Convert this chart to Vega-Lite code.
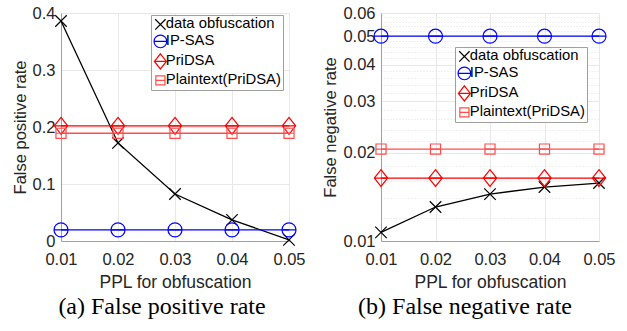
{
  "$schema": "https://vega.github.io/schema/vega-lite/v6.json",
  "background": "white",
  "padding": {"left": 11, "top": 4, "right": 5, "bottom": 5},
  "datasets": {
    "fpr": [
      {"ppl": 0.01, "series": "data obfuscation", "value": 0.386},
      {"ppl": 0.02, "series": "data obfuscation", "value": 0.172},
      {"ppl": 0.03, "series": "data obfuscation", "value": 0.0825},
      {"ppl": 0.04, "series": "data obfuscation", "value": 0.037},
      {"ppl": 0.05, "series": "data obfuscation", "value": 0.002},
      {"ppl": 0.01, "series": "IP-SAS", "value": 0.0195},
      {"ppl": 0.02, "series": "IP-SAS", "value": 0.0195},
      {"ppl": 0.03, "series": "IP-SAS", "value": 0.0195},
      {"ppl": 0.04, "series": "IP-SAS", "value": 0.0195},
      {"ppl": 0.05, "series": "IP-SAS", "value": 0.0195},
      {"ppl": 0.01, "series": "PriDSA", "value": 0.202},
      {"ppl": 0.02, "series": "PriDSA", "value": 0.202},
      {"ppl": 0.03, "series": "PriDSA", "value": 0.202},
      {"ppl": 0.04, "series": "PriDSA", "value": 0.202},
      {"ppl": 0.05, "series": "PriDSA", "value": 0.202},
      {"ppl": 0.01, "series": "Plaintext(PriDSA)", "value": 0.189},
      {"ppl": 0.02, "series": "Plaintext(PriDSA)", "value": 0.189},
      {"ppl": 0.03, "series": "Plaintext(PriDSA)", "value": 0.189},
      {"ppl": 0.04, "series": "Plaintext(PriDSA)", "value": 0.189},
      {"ppl": 0.05, "series": "Plaintext(PriDSA)", "value": 0.189}
    ],
    "fnr": [
      {"ppl": 0.01, "series": "data obfuscation", "value": 0.0107},
      {"ppl": 0.02, "series": "data obfuscation", "value": 0.01306},
      {"ppl": 0.03, "series": "data obfuscation", "value": 0.01446},
      {"ppl": 0.04, "series": "data obfuscation", "value": 0.01528},
      {"ppl": 0.05, "series": "data obfuscation", "value": 0.01577},
      {"ppl": 0.01, "series": "IP-SAS", "value": 0.05},
      {"ppl": 0.02, "series": "IP-SAS", "value": 0.05},
      {"ppl": 0.03, "series": "IP-SAS", "value": 0.05},
      {"ppl": 0.04, "series": "IP-SAS", "value": 0.05},
      {"ppl": 0.05, "series": "IP-SAS", "value": 0.05},
      {"ppl": 0.01, "series": "PriDSA", "value": 0.0164},
      {"ppl": 0.02, "series": "PriDSA", "value": 0.0164},
      {"ppl": 0.03, "series": "PriDSA", "value": 0.0164},
      {"ppl": 0.04, "series": "PriDSA", "value": 0.0164},
      {"ppl": 0.05, "series": "PriDSA", "value": 0.0164},
      {"ppl": 0.01, "series": "Plaintext(PriDSA)", "value": 0.0206},
      {"ppl": 0.02, "series": "Plaintext(PriDSA)", "value": 0.0206},
      {"ppl": 0.03, "series": "Plaintext(PriDSA)", "value": 0.0206},
      {"ppl": 0.04, "series": "Plaintext(PriDSA)", "value": 0.0206},
      {"ppl": 0.05, "series": "Plaintext(PriDSA)", "value": 0.0206}
    ]
  },
  "config": {
    "font": "Liberation Sans",
    "view": {"stroke": "#e8e8e8"},
    "axis": {
      "labelFont": "Liberation Sans",
      "labelFontSize": 16.5,
      "labelColor": "#262626",
      "titleFont": "Liberation Sans",
      "titleFontWeight": "normal",
      "titleColor": "#262626",
      "domainColor": "#a0a0a0",
      "gridColor": "#e8e8e8",
      "ticks": false
    },
    "axisX": {"labelPadding": 10, "titleFontSize": 17.5, "titlePadding": 6, "labelFlush": false},
    "axisY": {"labelPadding": 6, "titleFontSize": 16.5, "titlePadding": 4},
    "legend": {
      "fillColor": "white",
      "strokeColor": "#a0a0a0",
      "padding": 2,
      "labelFont": "Liberation Sans",
      "labelFontSize": 14.8,
      "labelColor": "black",
      "labelOffset": -2,
      "labelLimit": 300,
      "symbolSize": 160,
      "symbolStrokeWidth": 1.2,
      "rowPadding": 0
    }
  },
  "resolve": {
    "scale": {"color": "independent", "shape": "independent", "stroke": "independent"},
    "legend": {"color": "independent", "shape": "independent"}
  },
  "spacing": 92,
  "bounds": "flush",
  "hconcat": [
    {
      "width": 228,
      "height": 228,
      "title": {"text": "(a) False positive rate", "orient": "bottom", "anchor": "middle", "frame": "group", "font": "Liberation Serif", "fontSize": 24, "fontWeight": "normal", "color": "black", "dx": -13, "offset": 4},
      "data": {"name": "fpr"},
      "encoding": {
        "x": {"field": "ppl", "type": "quantitative", "scale": {"domain": [0.01, 0.05], "nice": false, "zero": false}, "axis": {"values": [0.01, 0.02, 0.03, 0.04, 0.05], "format": ".2f", "title": "PPL for obfuscation"}},
        "y": {"field": "value", "type": "quantitative", "scale": {"domain": [0, 0.4], "nice": false}, "axis": {"values": [0, 0.1, 0.2, 0.3, 0.4], "labelExpr": "datum.value == 0 ? '0' : format(datum.value, '.1f')", "title": "False positive rate"}}
      },
      "layer": [
        {
          "mark": {"type": "line", "strokeWidth": 1.3},
          "encoding": {"stroke": {"field": "series", "type": "nominal", "legend": null, "scale": {"domain": ["Plaintext(PriDSA)", "PriDSA", "IP-SAS", "data obfuscation"], "range": ["#ff4d4d", "#ff0000", "#0000ff", "#000000"]}}}
        },
        {
          "mark": {"type": "point", "filled": false, "size": 196, "strokeWidth": 1.2, "opacity": 1},
          "encoding": {
            "color": {"field": "series", "type": "nominal", "scale": {"domain": ["data obfuscation", "IP-SAS", "PriDSA", "Plaintext(PriDSA)"], "range": ["#000000", "#0000ff", "#ff0000", "#ff4d4d"]}, "legend": {"title": null, "orient": "none", "legendX": 90, "legendY": 2}},
            "shape": {"field": "series", "type": "nominal", "scale": {"domain": ["data obfuscation", "IP-SAS", "PriDSA", "Plaintext(PriDSA)"], "range": ["M-0.82,-0.82L0.82,0.82M-0.82,0.82L0.82,-0.82", "M-1,0A1,1,0,1,1,1,0A1,1,0,1,1,-1,0ZM-1,0L1,0", "M0,-1.2L0.95,0L0,1.2L-0.95,0ZM-0.95,0L0.95,0", "M-0.72,-0.72L0.72,-0.72L0.72,0.72L-0.72,0.72ZM-0.72,0L0.72,0"]}, "legend": {"title": null, "orient": "none", "legendX": 90, "legendY": 2}}
          }
        }
      ]
    },
    {
      "width": 218,
      "height": 228,
      "title": {"text": "(b) False negative rate", "orient": "bottom", "anchor": "middle", "frame": "group", "font": "Liberation Serif", "fontSize": 24, "fontWeight": "normal", "color": "black", "dx": -25, "offset": 4},
      "data": {"name": "fnr"},
      "encoding": {
        "x": {"field": "ppl", "type": "quantitative", "scale": {"domain": [0.01, 0.05], "nice": false, "zero": false}, "axis": {"values": [0.01, 0.02, 0.03, 0.04, 0.05], "format": ".2f", "title": "PPL for obfuscation"}},
        "y": {"field": "value", "type": "quantitative", "scale": {"type": "log", "domain": [0.01, 0.06], "nice": false}, "axis": {
          "values": [0.01, 0.012, 0.014, 0.016, 0.018, 0.02, 0.022, 0.024, 0.026, 0.028, 0.03, 0.032, 0.034, 0.036, 0.038, 0.04, 0.042, 0.044, 0.046, 0.048, 0.05, 0.052, 0.054, 0.056, 0.058, 0.06],
          "labelExpr": "abs(datum.value * 100 - round(datum.value * 100)) < 0.001 ? format(datum.value, '.2f') : ''",
          "gridDash": {"condition": {"test": "abs(datum.value * 100 - round(datum.value * 100)) < 0.001", "value": []}, "value": [1, 2]},
          "gridColor": {"condition": {"test": "abs(datum.value * 100 - round(datum.value * 100)) < 0.001", "value": "#e8e8e8"}, "value": "#e3e3e3"},
          "title": "False negative rate"}}
      },
      "layer": [
        {
          "mark": {"type": "line", "strokeWidth": 1.3},
          "encoding": {"stroke": {"field": "series", "type": "nominal", "legend": null, "scale": {"domain": ["Plaintext(PriDSA)", "PriDSA", "IP-SAS", "data obfuscation"], "range": ["#ff4d4d", "#ff0000", "#0000ff", "#000000"]}}}
        },
        {
          "mark": {"type": "point", "filled": false, "size": 196, "strokeWidth": 1.2, "opacity": 1},
          "encoding": {
            "color": {"field": "series", "type": "nominal", "scale": {"domain": ["data obfuscation", "IP-SAS", "PriDSA", "Plaintext(PriDSA)"], "range": ["#000000", "#0000ff", "#ff0000", "#ff4d4d"]}, "legend": {"title": null, "orient": "none", "legendX": 74, "legendY": 34}},
            "shape": {"field": "series", "type": "nominal", "scale": {"domain": ["data obfuscation", "IP-SAS", "PriDSA", "Plaintext(PriDSA)"], "range": ["M-0.82,-0.82L0.82,0.82M-0.82,0.82L0.82,-0.82", "M-1,0A1,1,0,1,1,1,0A1,1,0,1,1,-1,0ZM-1,0L1,0", "M0,-1.2L0.95,0L0,1.2L-0.95,0ZM-0.95,0L0.95,0", "M-0.72,-0.72L0.72,-0.72L0.72,0.72L-0.72,0.72ZM-0.72,0L0.72,0"]}, "legend": {"title": null, "orient": "none", "legendX": 74, "legendY": 34}}
          }
        }
      ]
    }
  ]
}
